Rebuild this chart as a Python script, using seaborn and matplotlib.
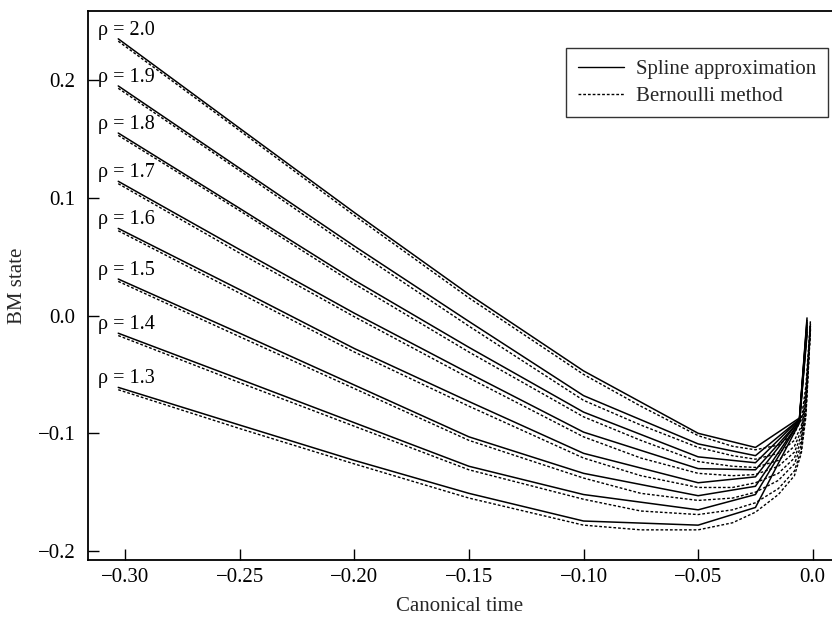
import numpy as np
import pandas as pd
import matplotlib
matplotlib.use("Agg")
import matplotlib.pyplot as plt
from matplotlib.lines import Line2D
import seaborn as sns

# ---- data ----
rhos = ["2.0", "1.9", "1.8", "1.7", "1.6", "1.5", "1.4", "1.3"]

# Spline approximation (solid), piecewise linear knots
spline_t = [-0.303, -0.25, -0.2, -0.15, -0.1, -0.05, -0.025, -0.0058, -0.0025]
spline_20 = [0.235, 0.159, 0.0875, 0.018, -0.047, -0.100, -0.112, -0.087, -0.002]
spline_19 = [0.195, 0.125, 0.059, -0.005, -0.068, -0.109, -0.119, -0.088, -0.004]
spline_18 = [0.155, 0.091, 0.030, -0.027, -0.082, -0.120, -0.125, -0.088, -0.006]
spline_17 = [0.114, 0.056, 0.002, -0.049, -0.099, -0.130, -0.131, -0.089, -0.008]
spline_16 = [0.074, 0.022, -0.028, -0.073, -0.117, -0.142, -0.137, -0.089, -0.010]
spline_15 = [0.031, -0.015, -0.059, -0.103, -0.134, -0.153, -0.145, -0.090, -0.012]
spline_14 = [-0.015, -0.054, -0.091, -0.128, -0.152, -0.165, -0.152, -0.090, -0.014]
spline_13 = [-0.061, -0.093, -0.123, -0.151, -0.1745, -0.178, -0.163, -0.091, -0.016]

# Bernoulli method (dotted)
bern_t = [-0.303, -0.25, -0.2, -0.15, -0.1, -0.075, -0.05, -0.035, -0.025,
          -0.015, -0.008, -0.005, -0.003, -0.001]
bern_20 = [0.233, 0.157, 0.085, 0.015, -0.050, -0.077, -0.102, -0.111, -0.114, -0.110, -0.100, -0.088, -0.060, -0.004]
bern_19 = [0.193, 0.123, 0.056, -0.009, -0.072, -0.093, -0.112, -0.119, -0.122, -0.117, -0.106, -0.094, -0.065, -0.006]
bern_18 = [0.153, 0.089, 0.027, -0.031, -0.086, -0.106, -0.124, -0.128, -0.129, -0.123, -0.111, -0.098, -0.069, -0.007]
bern_17 = [0.112, 0.053, -0.001, -0.053, -0.103, -0.121, -0.134, -0.136, -0.135, -0.128, -0.116, -0.102, -0.073, -0.008]
bern_16 = [0.072, 0.019, -0.031, -0.077, -0.121, -0.136, -0.146, -0.146, -0.142, -0.134, -0.121, -0.106, -0.077, -0.009]
bern_15 = [0.029, -0.018, -0.062, -0.106, -0.138, -0.151, -0.157, -0.155, -0.150, -0.140, -0.126, -0.110, -0.080, -0.010]
bern_14 = [-0.017, -0.057, -0.094, -0.131, -0.156, -0.166, -0.169, -0.165, -0.159, -0.147, -0.132, -0.114, -0.083, -0.011]
bern_13 = [-0.063, -0.096, -0.126, -0.155, -0.178, -0.182, -0.182, -0.176, -0.167, -0.152, -0.136, -0.117, -0.086, -0.012]

spline_all = [spline_20, spline_19, spline_18, spline_17, spline_16, spline_15, spline_14, spline_13]
bern_all = [bern_20, bern_19, bern_18, bern_17, bern_16, bern_15, bern_14, bern_13]

xticks = [-0.30, -0.25, -0.20, -0.15, -0.10, -0.05, 0.0]
xtick_labels = ["\u22120.30", "\u22120.25", "\u22120.20", "\u22120.15", "\u22120.10", "\u22120.05", "0.0"]
yticks = [-0.2, -0.1, 0.0, 0.1, 0.2]
ytick_labels = ["\u22120.2", "\u22120.1", "0.0", "0.1", "0.2"]

# ---- build tables ----
rows = []
for r, ys in zip(rhos, spline_all):
    for t, y in zip(spline_t, ys):
        rows.append({"rho": r, "t": t, "y": y})
df_spline = pd.DataFrame(rows)
rows = []
for r, ys in zip(rhos, bern_all):
    for t, y in zip(bern_t, ys):
        rows.append({"rho": r, "t": t, "y": y})
df_bern = pd.DataFrame(rows)

# ---- plot ----
sns.set_theme(style="ticks")
plt.rcParams["font.family"] = ["Liberation Serif", "DejaVu Serif"]

W, H = 832, 631
fig = plt.figure(figsize=(W / 100, H / 100), dpi=100)
ax = fig.add_axes([88 / W, 1 - 560 / H, (W - 88) / W, (560 - 10.7) / H])

for r in rhos:
    sub_b = df_bern[df_bern.rho == r]
    sns.lineplot(data=sub_b, x="t", y="y", sort=False, estimator=None, ax=ax,
                 color="black", linewidth=1.0, linestyle=(0, (2.0, 1.4)), legend=False)
    sub_s = df_spline[df_spline.rho == r]
    sns.lineplot(data=sub_s, x="t", y="y", sort=False, estimator=None, ax=ax,
                 color="black", linewidth=1.1, legend=False)

# rho labels
for r, ys in zip(rhos, spline_all):
    ax.text(-0.3117, ys[0] + 0.0072, "\u03c1 = " + r, fontsize=14.5,
            ha="left", va="center", color="black")

ax.set_xlim(-0.3162, 0.0084)
ax.set_ylim(-0.2076, 0.2589)
ax.set_xticks(xticks)
ax.set_xticklabels(xtick_labels)
ax.set_yticks(yticks)
ax.set_yticklabels(ytick_labels)
ax.tick_params(axis="both", direction="in", length=8, width=1, labelsize=15,
               colors="black")
ax.tick_params(axis="x", pad=6)
ax.tick_params(axis="y", pad=9)
ax.set_xlabel("Canonical time", fontsize=15, labelpad=7)
ax.set_ylabel("BM state", fontsize=15, labelpad=8)

for s in ["left", "bottom", "top"]:
    ax.spines[s].set_linewidth(1.3)
    ax.spines[s].set_color("black")
ax.spines["right"].set_visible(False)

handles = [Line2D([], [], color="black", linewidth=1.0),
           Line2D([], [], color="black", linewidth=1.0, linestyle=(0, (2.0, 1.4)))]
leg = ax.legend(handles, ["Spline approximation", "Bernoulli method"],
                loc="upper right", bbox_to_anchor=(0.9946, 0.932), borderaxespad=0,
                fontsize=15, frameon=True, fancybox=False, handlelength=2.2,
                handletextpad=0.6, borderpad=0.55, labelspacing=0.35)
leg.get_frame().set_edgecolor("black")
leg.get_frame().set_linewidth(1.0)

fig.savefig("out.png", dpi=100)
